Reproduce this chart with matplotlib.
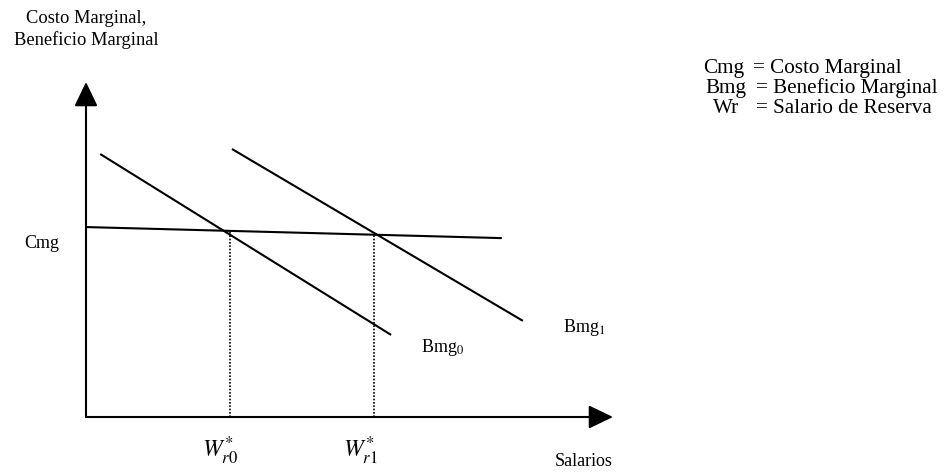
import matplotlib
matplotlib.use("Agg")
import matplotlib.pyplot as plt

plt.rcParams['font.family'] = ['Liberation Serif', 'DejaVu Serif']
plt.rcParams['mathtext.fontset'] = 'stix'

# Curve endpoints (axes units: x 0..10 salarios, y 0..10 costo/beneficio)
cmg_x = [0.0, 7.89]
cmg_y = [5.67, 5.34]
bmg0_x = [0.27, 5.79]
bmg0_y = [7.85, 2.45]
bmg1_x = [2.77, 8.29]
bmg1_y = [8.00, 2.87]
# reservation wages (dotted verticals)
wr_x = [2.73, 5.46]
wr_top = [5.55, 5.43]

W, H = 944, 472
fig = plt.figure(figsize=(W / 100, H / 100), dpi=100)

# axes: origin at pixel (86, 417), top at y=82, right at x=613
x0, y0, x1, y1 = 86, 417, 613, 82
ax = fig.add_axes([x0 / W, 1 - y0 / H, (x1 - x0) / W, (y0 - y1) / H])
ax.set_xlim(0, 10)
ax.set_ylim(0, 10)
ax.axis('off')

lw = 1.5
ax.plot(cmg_x, cmg_y, color='black', lw=lw, solid_capstyle='butt', clip_on=False)
ax.plot(bmg0_x, bmg0_y, color='black', lw=lw, solid_capstyle='butt', clip_on=False)
ax.plot(bmg1_x, bmg1_y, color='black', lw=lw, solid_capstyle='butt', clip_on=False)
for x, t in zip(wr_x, wr_top):
    ax.plot([x, x], [0, t], color='black', lw=1.2, linestyle=(0, (1.0, 1.0)), clip_on=False)

arrow = dict(arrowstyle='-|>,head_length=1.5,head_width=0.72', color='black',
             lw=lw, shrinkA=0, shrinkB=0, mutation_scale=10)
ax.annotate('', xy=(0, 10), xytext=(0, 0), arrowprops=arrow, annotation_clip=False)
ax.annotate('', xy=(10, 0), xytext=(0, 0), arrowprops=arrow, annotation_clip=False)


def px(x, y):
    return x / W, 1 - y / H


fs = 13
fig.text(*px(86, 23), 'Costo Marginal,', fontsize=13.3, ha='center', va='baseline')
fig.text(*px(86, 45), 'Beneficio Marginal', fontsize=13.3, ha='center', va='baseline')
fig.text(*px(24, 248), 'Cmg', fontsize=fs, ha='left', va='baseline')
fig.text(*px(421, 352), r'Bmg$_{\mathrm{0}}$', fontsize=fs, ha='left', va='baseline')
fig.text(*px(563, 332), r'Bmg$_{\mathrm{1}}$', fontsize=fs, ha='left', va='baseline')
fig.text(*px(555, 466), 'Salarios', fontsize=fs, ha='left', va='baseline')
fig.text(*px(202, 458), r'$W_{r0}^{*}$', fontsize=17, ha='left', va='baseline')
fig.text(*px(343, 458), r'$W_{r1}^{*}$', fontsize=17, ha='left', va='baseline')

legend_keys = ['Cmg', 'Bmg', 'Wr']
legend_vals = ['= Costo Marginal', '= Beneficio Marginal', '= Salario de Reserva']
key_x = [703, 705, 713]
eq_x = [753, 756, 756]
base_y = [73, 93, 113]
for k, v, kx, ex, by in zip(legend_keys, legend_vals, key_x, eq_x, base_y):
    fig.text(*px(kx, by), k, fontsize=15.2, ha='left', va='baseline')
    fig.text(*px(ex, by), v, fontsize=15.2, ha='left', va='baseline')

fig.savefig('out.png', dpi=100, facecolor='white')
